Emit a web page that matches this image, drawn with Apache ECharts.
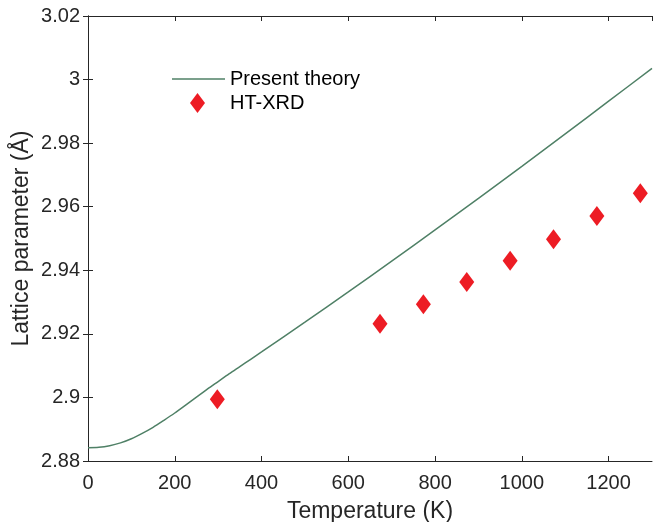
<!DOCTYPE html>
<html><head><meta charset="utf-8">
<script src="https://cdn.jsdelivr.net/npm/echarts@6/dist/echarts.min.js"></script>
<style>html,body{margin:0;padding:0;background:#fff}#c{width:654px;height:522px}</style>
</head><body><div id="c"></div>
<script>
const theoryT = [0, 25, 50, 75, 100, 125, 150, 175, 200, 225, 250, 275, 300, 325, 350, 375, 400, 500, 600, 700, 800, 900, 1000, 1100, 1200, 1300];
const theoryA = [2.8842, 2.8843, 2.8848, 2.8857, 2.8870, 2.8887, 2.8906, 2.8928, 2.8951, 2.8976, 2.9001, 2.9026, 2.9050, 2.9074, 2.9097, 2.9120, 2.9143, 2.9237, 2.9332, 2.9429, 2.9527, 2.9626, 2.9727, 2.9829, 2.9932, 3.0035];
const xrdT = [298, 673, 773, 873, 973, 1073, 1173, 1273];
const xrdA = [2.8994, 2.9232, 2.9293, 2.9363, 2.9430, 2.9498, 2.9571, 2.9642];
const seriesNames = ['Present theory', 'HT-XRD'];
const xTitle = 'Temperature (K)';
const yTitle = 'Lattice parameter (Å)';

const font = '"Liberation Sans", Arial, Helvetica, sans-serif';
const axisCol = '#262626';
const chart = echarts.init(document.getElementById('c'), null, {renderer: 'canvas'});
const fmtY = v => parseFloat(v.toFixed(2)).toString();
const fmtX = v => String(Math.round(v));
const baseAxisLine = {show: true, lineStyle: {color: axisCol, width: 1}};
const tick = {show: true, inside: true, length: 5, lineStyle: {color: axisCol, width: 1}};

chart.setOption({
  animation: false,
  backgroundColor: '#fff',
  grid: {left: 88, right: 2, top: 16, bottom: 61, containLabel: false, outerBoundsMode: 'none'},
  xAxis: [{
    type: 'value', min: 0, max: 1300, interval: 200, position: 'bottom',
    name: xTitle, nameLocation: 'middle', nameGap: 39, nameMoveOverlap: false,
    nameTextStyle: {fontFamily: font, fontSize: 23, color: axisCol},
    axisLine: baseAxisLine, axisTick: tick, splitLine: {show: false},
    axisLabel: {fontFamily: font, fontSize: 20, color: axisCol, margin: 12, showMaxLabel: false, formatter: fmtX}
  }, {
    type: 'value', min: 0, max: 1300, interval: 200, position: 'top',
    axisLine: baseAxisLine, axisTick: tick, splitLine: {show: false},
    axisLabel: {show: false}
  }],
  yAxis: [{
    type: 'value', min: 2.88, max: 3.02, interval: 0.02, position: 'left',
    name: yTitle, nameLocation: 'middle', nameGap: 55, nameMoveOverlap: false,
    nameTextStyle: {fontFamily: font, fontSize: 23, color: axisCol},
    axisLine: baseAxisLine, axisTick: tick, splitLine: {show: false},
    axisLabel: {fontFamily: font, fontSize: 20, color: axisCol, margin: 8, formatter: fmtY}
  }, {
    type: 'value', min: 2.88, max: 3.02, interval: 0.02, position: 'right',
    axisLine: baseAxisLine, axisTick: tick, splitLine: {show: false},
    axisLabel: {show: false}
  }],
  legend: [{
    data: [{name: seriesNames[0], icon: 'rect'}], orient: 'vertical', left: 172, top: 69, padding: 0,
    itemWidth: 53, itemHeight: 1.5, itemGap: 5,
    textStyle: {fontFamily: font, fontSize: 20, color: '#000'}
  }, {
    data: [{name: seriesNames[1], icon: 'diamond'}], orient: 'vertical', left: 190, top: 93, padding: 0,
    itemWidth: 15, itemHeight: 20,
    textStyle: {fontFamily: font, fontSize: 20, color: '#000', padding: [0, 0, 0, 20]}
  }],
  series: [{
    name: seriesNames[0], type: 'line', symbol: 'none', smooth: 0.3,
    data: theoryT.map((t, i) => [t, theoryA[i]]),
    lineStyle: {color: '#4f8066', width: 1.5}, itemStyle: {color: '#4f8066'}
  }, {
    name: seriesNames[1], type: 'scatter', symbol: 'diamond', symbolSize: [15, 20],
    data: xrdT.map((t, i) => [t, xrdA[i]]),
    itemStyle: {color: '#ed1c24', opacity: 1}
  }]
});
</script>
</body></html>
